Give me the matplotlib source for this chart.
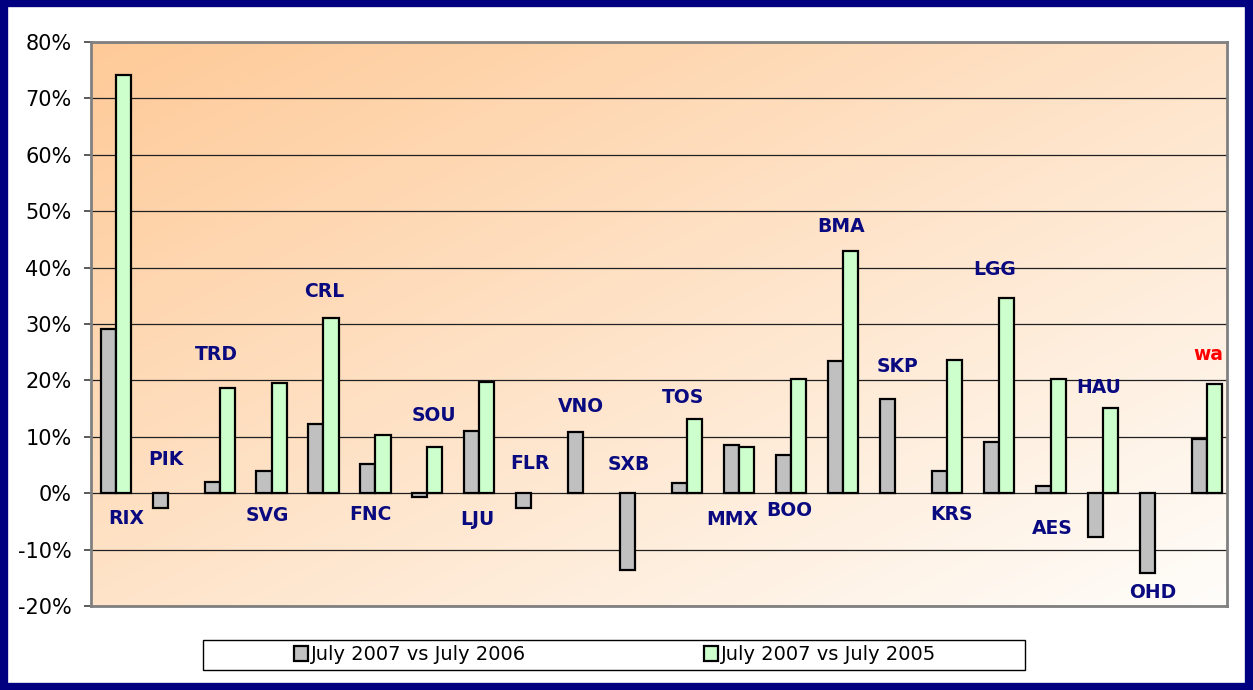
import numpy as np
import matplotlib
matplotlib.use("Agg")
import matplotlib.pyplot as plt
from matplotlib.patches import Rectangle
from matplotlib.ticker import FuncFormatter

# data (percent)
airports = ['RIX', 'PIK', 'TRD', 'SVG', 'CRL', 'FNC', 'SOU', 'LJU', 'FLR', 'VNO', 'SXB', 'TOS',
            'MMX', 'BOO', 'BMA', 'SKP', 'KRS', 'LGG', 'AES', 'HAU', 'OHD', 'wa']
vs_2006 = [29.1, -2.6, 1.9, 4.0, 12.3, 5.2, -0.6, 11.0, -2.7, 10.8, -13.7, 1.8,
           8.5, 6.8, 23.4, 16.7, 3.9, 9.1, 1.3, -7.8, -14.1, 9.6]
vs_2005 = [74.2, np.nan, 18.6, 19.5, 31.0, 10.4, 8.2, 19.7, np.nan, np.nan, np.nan, 13.2,
           8.2, 20.3, 42.9, np.nan, 23.6, 34.6, 20.3, 15.1, np.nan, 19.4]
series_names = ['July 2007 vs July 2006', 'July 2007 vs July 2005']

# where each airport code sits (offset from category, value)
label_dx = [0.20, -0.04, -0.07, -0.08, 0.01, -0.10, 0.12, -0.04, -0.02, -0.05, -0.13, -0.08,
            -0.13, -0.03, -0.03, 0.05, 0.09, -0.08, 0.03, -0.08, -0.03, 0.04]
label_y = [-4.4, 6.0, 24.6, -4.0, 35.8, -3.8, 13.7, -4.6, 5.3, 15.4, 5.1, 16.9,
           -4.7, -3.1, 47.2, 22.4, -3.7, 39.6, -6.3, 18.7, -17.6, 24.6]

fig = plt.figure(figsize=(12.53, 6.90), dpi=100)
ax = fig.add_axes([91 / 1253, 1 - 606 / 690, 1136 / 1253, 564 / 690])

# diagonal orange -> white background
gx, gy = np.meshgrid(np.linspace(0, 1, 300), np.linspace(0, 1, 200))
t = np.clip((gx + gy) / 2, 0, 1)[..., None]
orange = np.array([254, 202, 152]) / 255
white = np.array([255, 253, 250]) / 255
grad = orange * (1 - t) + white * t
ax.imshow(grad, extent=[0, 1, 0, 1], transform=ax.transAxes, origin='upper',
          aspect='auto', zorder=0)

x = np.arange(len(airports))
w = 0.29
b1 = ax.bar(x - w / 2, vs_2006, w, color='#C0C0C0', edgecolor='black', linewidth=1.6,
            zorder=3, label=series_names[0])
b2 = ax.bar(x + w / 2, vs_2005, w, color='#CCFFCC', edgecolor='black', linewidth=1.6,
            zorder=3, label=series_names[1])

for i, name in enumerate(airports):
    ax.text(x[i] + label_dx[i], label_y[i], name, ha='center', va='center',
            fontsize=13.5, fontweight='bold',
            color='red' if name == 'wa' else '#0A0A80', zorder=4)

ax.set_xlim(-0.475, 21.391)
ax.set_ylim(-20, 80)
ax.set_yticks(np.arange(-20, 81, 10))
ax.yaxis.set_major_formatter(FuncFormatter(lambda v, p: f'{v:.0f}%'))
ax.set_xticks([])
ax.grid(axis='y', color='#202020', linewidth=0.9, zorder=1)
ax.set_axisbelow(True)
ax.tick_params(axis='y', labelsize=15, length=5, width=1.2, color='#404040', pad=9)
for s in ax.spines.values():
    s.set_color('#808080')
    s.set_linewidth(2)
    s.set_zorder(5)

# legend: one box, each entry centred in its half
fig.patches.append(Rectangle((203 / 1253, 1 - 670 / 690), 822 / 1253, 30 / 690,
                             transform=fig.transFigure, facecolor='white',
                             edgecolor='black', linewidth=1))
for handle, name, cx in [(b1, series_names[0], 410), (b2, series_names[1], 820)]:
    fig.legend([handle], [name], loc='center', bbox_to_anchor=(cx / 1253, 1 - 655 / 690),
               frameon=False, fontsize=14, handlelength=0.7, handleheight=0.8,
               handletextpad=0.15, borderpad=0, borderaxespad=0)

# navy outer frame
fig.patches.append(Rectangle((0.003, 0.005), 0.994, 0.99, transform=fig.transFigure,
                             fill=False, edgecolor='#000080', linewidth=6))

fig.savefig('out.png', dpi=100)
